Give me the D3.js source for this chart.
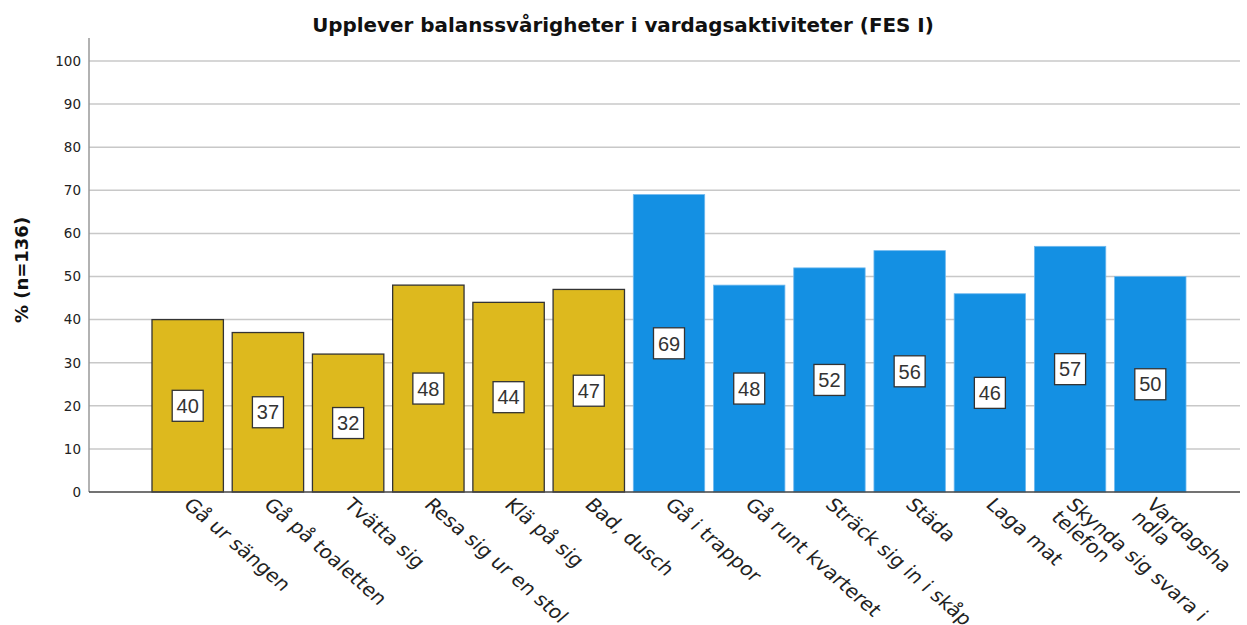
<!DOCTYPE html>
<html><head><meta charset="utf-8">
<script src="https://cdn.jsdelivr.net/npm/d3@7"></script>
<style>body{margin:0;background:#fff;font-family:"DejaVu Sans",sans-serif}</style>
</head><body>
<svg id="c" width="1247" height="625"></svg>
<script>
const categories = [["Gå ur sängen"],["Gå på toaletten"],["Tvätta sig"],["Resa sig ur en stol"],["Klä på sig"],["Bad, dusch"],["Gå i trappor"],["Gå runt kvarteret"],["Sträck sig in i skåp"],["Städa"],["Laga mat"],["Skynda sig svara i","telefon"],["Vardagsha","ndla"]];
const values = [40,37,32,48,44,47,69,48,52,56,46,57,50];
const groups = ["a","a","a","a","a","a","b","b","b","b","b","b","b"];
const yTicks = [0,10,20,30,40,50,60,70,80,90,100];
const title = "Upplever balanssvårigheter i vardagsaktiviteter (FES I)";
const yTitle = "% (n=136)";

const svg = d3.select("#c");
const axX = 89, plotRight = 1240, y0 = 492, yTop = 38;
const y = d3.scaleLinear().domain([0,100]).range([y0, 61]);
const x = d3.scaleBand().domain(d3.range(values.length)).range([152, 1186]).paddingInner(0.11).paddingOuter(0);
const color = {a:"#DDB91E", b:"#1490E3"};

// gridlines
svg.append("g").selectAll("line").data(yTicks.filter(d=>d>0)).join("line")
  .attr("x1",axX).attr("x2",plotRight).attr("y1",d=>y(d)).attr("y2",d=>y(d))
  .attr("stroke","#c8c8c8").attr("stroke-width",1.5);

// y axis
const ya = svg.append("g").attr("transform",`translate(${axX},0)`)
  .call(d3.axisLeft(y).tickValues(yTicks).tickSize(0).tickPadding(8));
ya.select(".domain").remove();
ya.selectAll("text").attr("font-family","DejaVu Sans, sans-serif").attr("font-size",13.5).attr("fill","#222");
svg.append("line").attr("x1",axX).attr("x2",axX).attr("y1",yTop).attr("y2",y0).attr("stroke","#999").attr("stroke-width",1.5);

// bars
svg.append("g").selectAll("rect").data(values).join("rect")
  .attr("x",(d,i)=>x(i)).attr("width",x.bandwidth())
  .attr("y",d=>y(d)).attr("height",d=>y0-y(d))
  .attr("fill",(d,i)=>color[groups[i]])
  .attr("stroke",(d,i)=>groups[i]==="a"?"#333":"#6fb8ee")
  .attr("stroke-width",(d,i)=>groups[i]==="a"?1.3:0.8);

// x axis line
svg.append("line").attr("x1",axX).attr("x2",plotRight).attr("y1",y0).attr("y2",y0).attr("stroke","#444").attr("stroke-width",1.3);

// value labels
const lab = svg.append("g").selectAll("g").data(values).join("g")
  .attr("transform",(d,i)=>`translate(${x(i)+x.bandwidth()/2},${y(d/2)})`);
lab.append("rect").attr("x",-15.5).attr("y",-15.5).attr("width",31).attr("height",31)
  .attr("fill","#fff").attr("stroke","#333").attr("stroke-width",1.3);
lab.append("text").attr("text-anchor","middle").attr("dy","0.36em")
  .attr("font-family","Liberation Sans, Arial, sans-serif")
  .attr("font-size",20).attr("fill","#333").text(d=>d);

// category labels
const cl = svg.append("g").selectAll("text").data(categories).join("text")
  .attr("transform",(d,i)=>`translate(${x(i)+x.bandwidth()/2+6},${y0+4}) scale(1.15,1) rotate(45)`)
  .attr("font-size",18.2).attr("fill","#222");
cl.each(function(lines){
  const t = d3.select(this);
  lines.forEach((s,k)=>t.append("tspan").attr("x",0).attr("dy",k===0?"0.75em":"1.0em").text(s));
});

// title
svg.append("text").attr("x",623).attr("y",32).attr("text-anchor","middle")
  .attr("font-size",19.9).attr("font-weight","bold").attr("fill","#111").text(title);

// y title
svg.append("text").attr("transform","translate(28,270) rotate(-90)").attr("text-anchor","middle")
  .attr("font-size",18).attr("font-weight","bold").attr("fill","#111").text(yTitle);
</script>
</body></html>
